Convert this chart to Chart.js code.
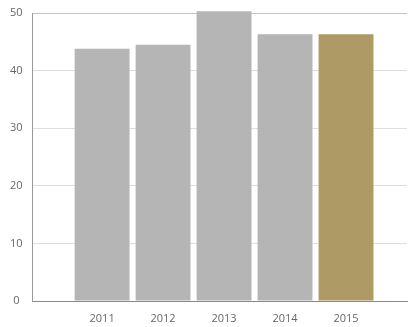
<!DOCTYPE html>
<html>
<head>
<meta charset="utf-8">
<script src="https://cdn.jsdelivr.net/npm/chart.js@4/dist/chart.umd.min.js"></script>
<style>
  html, body { margin: 0; padding: 0; background: #fff; }
  #myChart { display: block; }
</style>
</head>
<body>
<canvas id="myChart" width="408" height="327"></canvas>
<script>
// yearly values, last year highlighted
const years = [2011, 2012, 2013, 2014, 2015];
const values = [43.8, 44.5, 50.3, 46.3, 46.3];
const yTicks = [0, 10, 20, 30, 40, 50];

const grey = '#b5b5b5';
const gold = '#ad9a65';
const barColors = years.map((y, i) => i === years.length - 1 ? gold : grey);

const config = {
    type: 'bar',
    data: {
        datasets: [{
            data: years.map((y, i) => ({ x: y, y: values[i] })),
            backgroundColor: barColors,
            borderWidth: 0,
            barPercentage: 0.9,
            categoryPercentage: 1,
            clip: false
        }]
    },
    options: {
        responsive: false,
        animation: false,
        layout: { padding: { top: 0, right: 1, left: 0, bottom: 0 } },
        plugins: { legend: { display: false }, tooltip: { enabled: false } },
        scales: {
            x: {
                type: 'linear',
                offset: false,
                min: 2009.86,
                max: 2016,
                afterBuildTicks: (scale) => {
                    scale.ticks = years.map(v => ({ value: v }));
                },
                afterFit: (scale) => { scale.height = 26; },
                grid: { display: false, drawTicks: false, offset: false },
                border: { display: true, color: '#8a8a8a', width: 1 },
                ticks: {
                    padding: 11,
                    color: '#666',
                    font: { family: 'Open Sans', size: 11 },
                    callback: (v) => String(v)
                }
            },
            y: {
                min: 0,
                max: 50,
                afterBuildTicks: (scale) => {
                    scale.ticks = yTicks.map(v => ({ value: v }));
                },
                // keep the top gridline close to the canvas edge
                afterFit: (scale) => { scale.paddingTop = 13; },
                grid: {
                    drawTicks: false,
                    color: (ctx) => ctx.tick && ctx.tick.value === 50 ? '#c4c4c4' : '#dedede',
                    lineWidth: 1
                },
                border: { display: true, color: '#999', width: 1 },
                ticks: {
                    padding: 10,
                    crossAlign: 'center',
                    color: '#666',
                    font: { family: 'Open Sans', size: 11 }
                }
            }
        }
    }
};

var ctx = document.getElementById('myChart').getContext('2d');
var chart = new Chart(ctx, config);
</script>
</body>
</html>
